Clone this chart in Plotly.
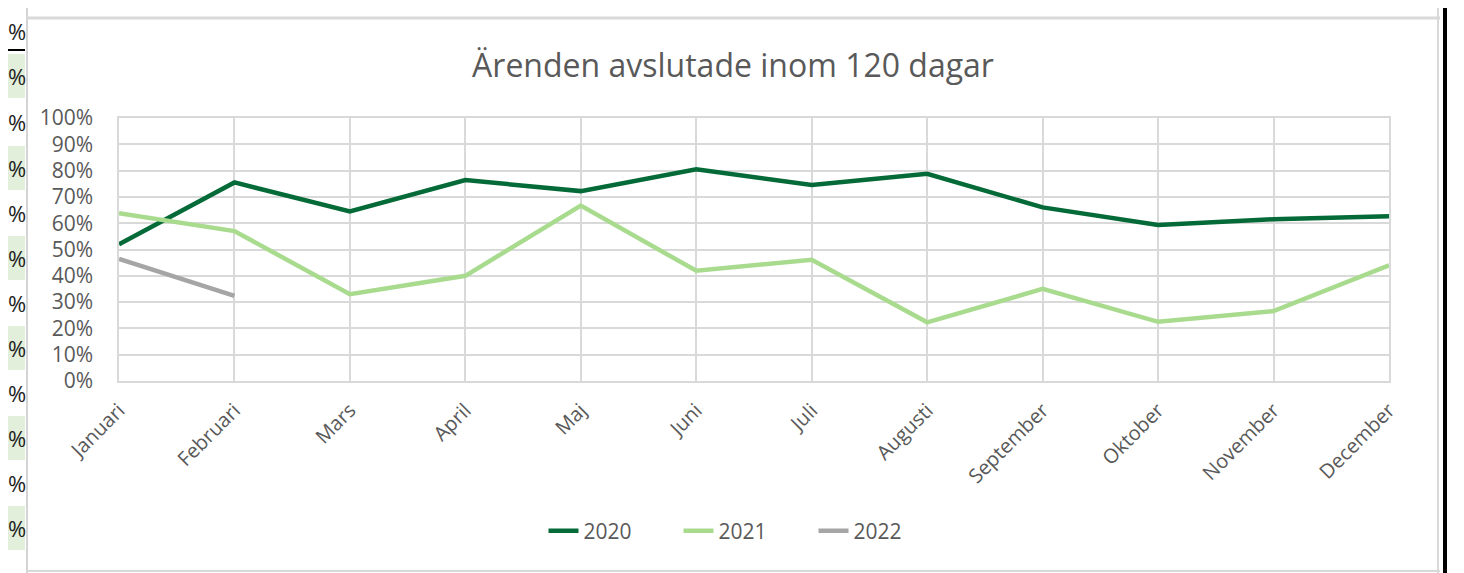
import plotly.graph_objects as go

months = ["Januari", "Februari", "Mars", "April", "Maj", "Juni", "Juli",
          "Augusti", "September", "Oktober", "November", "December"]
y2020 = [0.52, 0.755, 0.645, 0.764, 0.722, 0.805, 0.745, 0.788, 0.66, 0.593, 0.615, 0.626]
y2021 = [0.638, 0.57, 0.33, 0.40, 0.667, 0.419, 0.461, 0.223, 0.35, 0.225, 0.266, 0.44]
y2022 = [0.464, 0.324]
ytick_vals = [i / 10 for i in range(11)]
ytick_text = [f"{i*10}%" for i in range(11)]

# page offset (browser body margin) compensation
OFF = 8
W, H = 1464 - OFF, 573 - OFF
L, R, T, B = 119 - OFF, 1389 - OFF, 118 - OFF, 381 - OFF

def xp(px):
    return (px - OFF - L) / (R - L)

def yp(py):
    return (B - (py - OFF)) / (B - T)

FONT = "Open Sans"
GRAY_TXT = "#595959"

fig = go.Figure()
fig.add_trace(go.Scatter(x=months, y=y2020, name="2020", mode="lines",
                         line=dict(color="#046A38", width=4.5)))
fig.add_trace(go.Scatter(x=months, y=y2021, name="2021", mode="lines",
                         line=dict(color="#A9DB8E", width=4.5)))
fig.add_trace(go.Scatter(x=months[:len(y2022)], y=y2022, name="2022", mode="lines",
                         line=dict(color="#A5A5A5", width=4.5)))

shapes = []
# spreadsheet-like surroundings
for c in [76, 168, 258, 348, 438, 528]:
    shapes.append(dict(type="rect", xref="paper", yref="paper",
                       x0=xp(0), x1=xp(25), y0=yp(c - 22), y1=yp(c + 22),
                       fillcolor="#E2EFDA", line=dict(width=0), layer="below"))
shapes.append(dict(type="line", xref="paper", yref="paper", x0=xp(0), x1=xp(25),
                   y0=yp(50), y1=yp(50), line=dict(color="black", width=2)))
shapes.append(dict(type="line", xref="paper", yref="paper", x0=xp(27), x1=xp(27),
                   y0=yp(0), y1=yp(573), line=dict(color="#D4D4D4", width=2)))
shapes.append(dict(type="line", xref="paper", yref="paper", x0=xp(27), x1=xp(1440),
                   y0=yp(18), y1=yp(18), line=dict(color="#D9D9D9", width=3)))
shapes.append(dict(type="line", xref="paper", yref="paper", x0=xp(27), x1=xp(1440),
                   y0=yp(571), y1=yp(571), line=dict(color="#D9D9D9", width=2)))
shapes.append(dict(type="line", xref="paper", yref="paper", x0=xp(1438), x1=xp(1438),
                   y0=yp(0), y1=yp(573), line=dict(color="#D9D9D9", width=2)))
shapes.append(dict(type="line", xref="paper", yref="paper", x0=xp(1445), x1=xp(1445),
                   y0=yp(0), y1=yp(573), line=dict(color="black", width=4)))

annotations = []
for c in [31, 76, 122, 168, 213, 258, 303, 348, 393, 438, 483, 528]:
    annotations.append(dict(text="%", xref="paper", yref="paper", x=xp(27), y=yp(c),
                            xanchor="right", yanchor="middle", showarrow=False,
                            borderpad=0,
                            font=dict(family=FONT, size=22, color="#222222")))

fig.update_layout(
    width=W, height=H,
    margin=dict(l=L, r=W - R, t=T, b=H - B),
    paper_bgcolor="white", plot_bgcolor="white",
    title=dict(text="Ärenden avslutade inom 120 dagar", x=(733 - OFF) / W, xanchor="center",
               y=1 - (66 - OFF) / H, yanchor="middle",
               font=dict(family=FONT, size=32, color=GRAY_TXT)),
    showlegend=True,
    legend=dict(orientation="h", x=xp(746), xanchor="center", y=yp(531), yanchor="middle",
                font=dict(family=FONT, size=21, color=GRAY_TXT),
                entrywidth=90, entrywidthmode="pixels",
                bgcolor="rgba(0,0,0,0)"),
    shapes=shapes, annotations=annotations,
    xaxis=dict(type="category", range=[0, len(months) - 1], showgrid=True,
               gridcolor="#D9D9D9", gridwidth=1.5, tickangle=-45,
               tickfont=dict(family=FONT, size=20, color=GRAY_TXT),
               showline=True, linecolor="#D9D9D9", linewidth=1.5, mirror=True,
               ticks="", zeroline=False, ticklabelstandoff=8),
    yaxis=dict(range=[0, 1], tickvals=ytick_vals, ticktext=ytick_text,
               showgrid=True, gridcolor="#D9D9D9", gridwidth=1.5,
               tickfont=dict(family=FONT, size=21, color=GRAY_TXT),
               showline=True, linecolor="#D9D9D9", linewidth=1.5, mirror=True,
               ticks="", zeroline=False, ticklabelstandoff=20),
)

fig.write_html("out.html")
